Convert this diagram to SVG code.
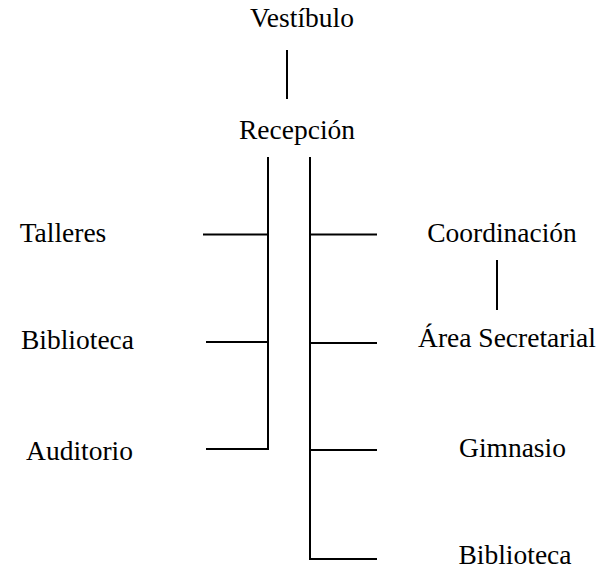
<svg xmlns="http://www.w3.org/2000/svg" width="607" height="570" viewBox="0 0 607 570">
<style>
text{font-family:"Liberation Serif","Times New Roman",serif;font-size:27.5px;fill:#000;text-anchor:middle}
.c line,.c path{stroke:#000;stroke-width:2;fill:none}
</style>
<rect width="607" height="570" fill="#fff"/>
<g id="vestibulo"><text x="302" y="27">Vestíbulo</text></g>
<g id="recepcion"><text x="297" y="139">Recepción</text></g>
<g id="talleres"><text x="63" y="242">Talleres</text></g>
<g id="biblioteca-izq"><text x="77.5" y="349">Biblioteca</text></g>
<g id="auditorio"><text x="79.5" y="460">Auditorio</text></g>
<g id="coordinacion"><text x="502" y="242">Coordinación</text></g>
<g id="area-secretarial"><text x="507" y="347">Área Secretarial</text></g>
<g id="gimnasio"><text x="512.5" y="457">Gimnasio</text></g>
<g id="biblioteca-der"><text x="515" y="563.5">Biblioteca</text></g>
<g class="c" id="connectors">
<line x1="287" y1="50" x2="287" y2="99"/>
<path d="M268 157 V449 H206"/>
<line x1="203" y1="234.5" x2="268" y2="234.5"/>
<line x1="206" y1="342" x2="268" y2="342"/>
<path d="M310 157 V559 H377"/>
<line x1="310" y1="234.5" x2="377" y2="234.5"/>
<line x1="310" y1="343" x2="377" y2="343"/>
<line x1="310" y1="450" x2="377" y2="450"/>
<line x1="497" y1="260" x2="497" y2="310"/>
</g>
</svg>
